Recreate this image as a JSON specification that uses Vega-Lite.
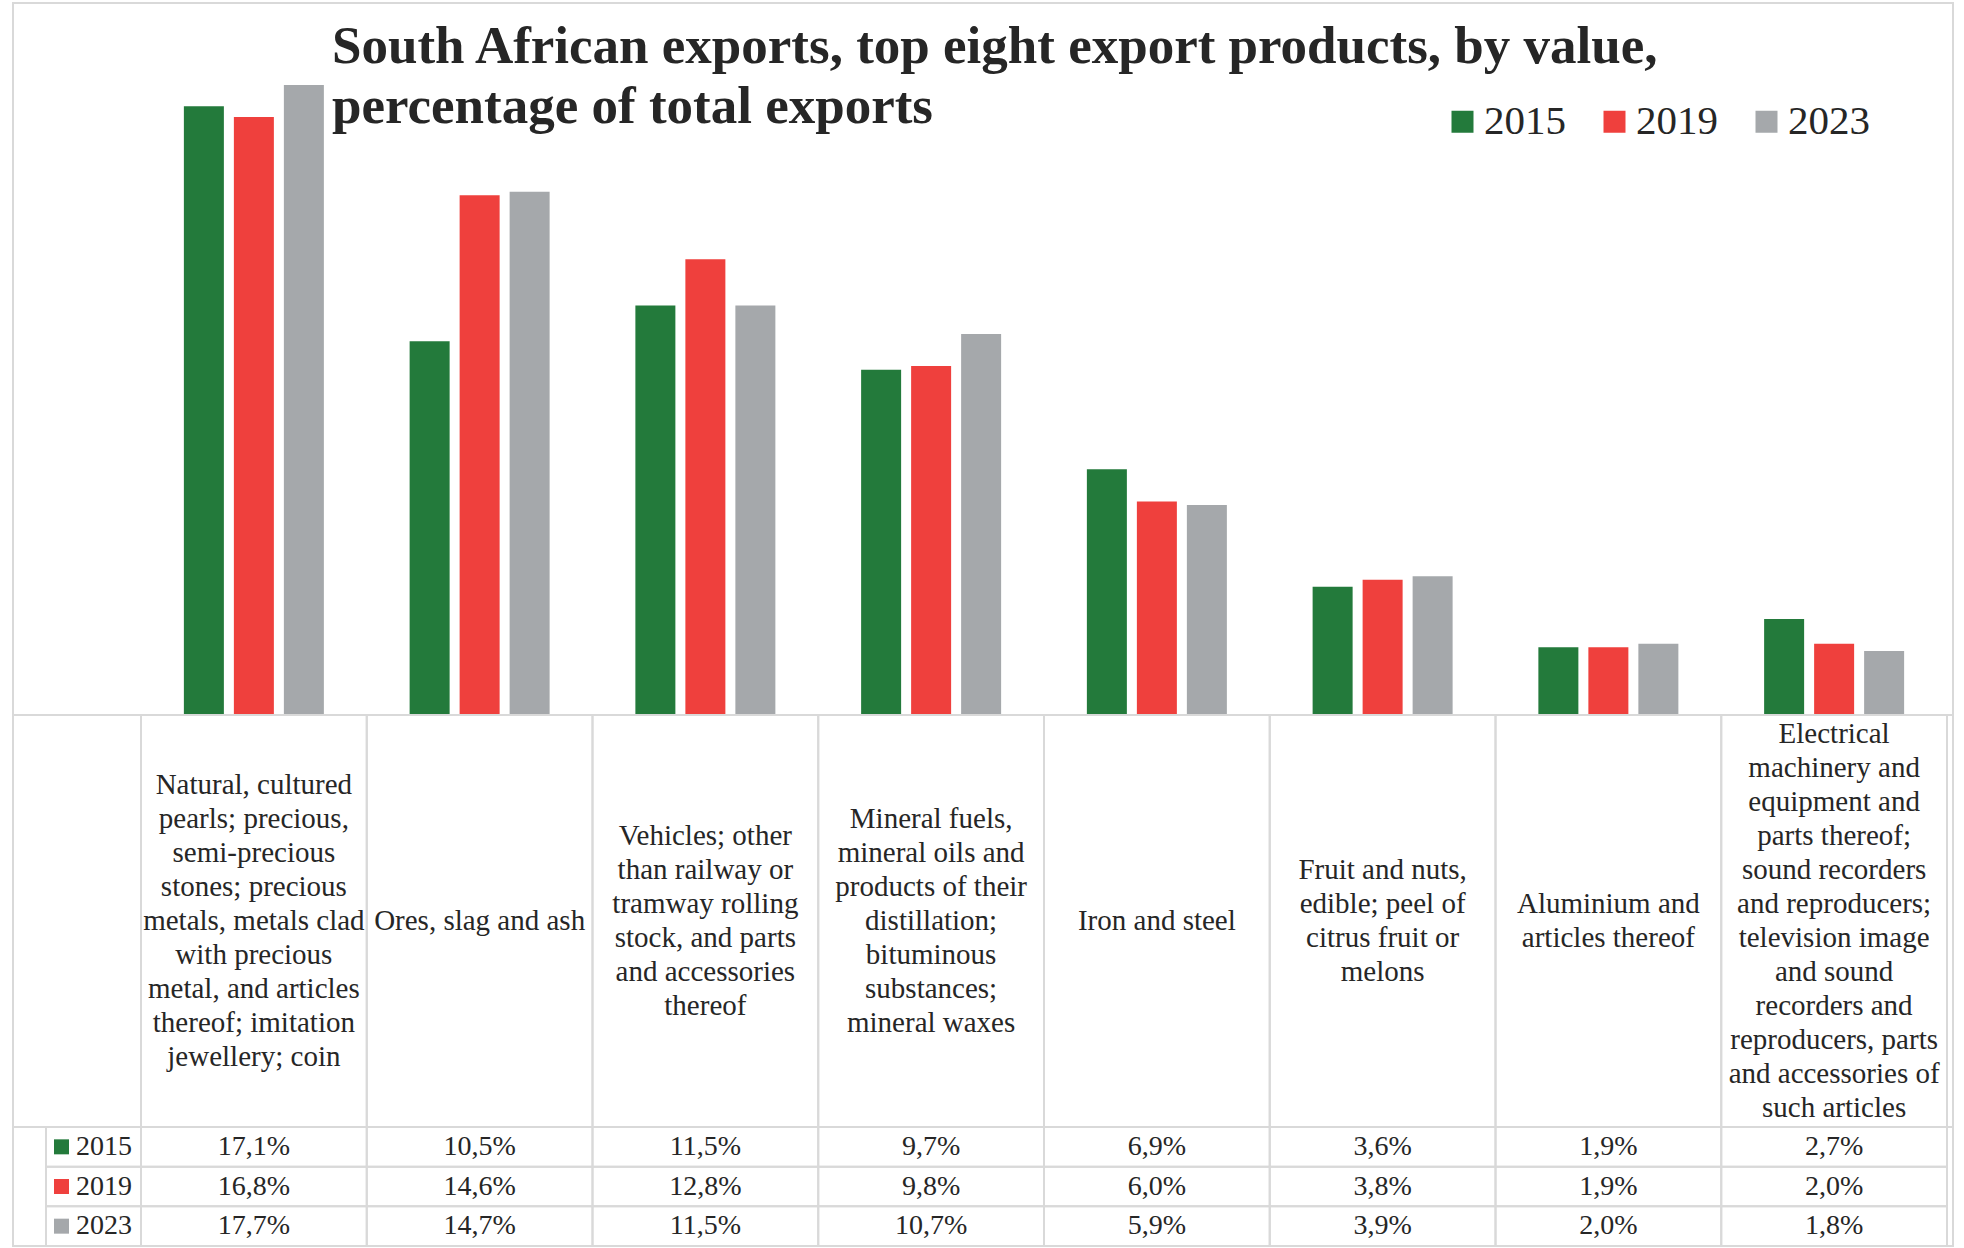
{
  "$schema": "https://vega.github.io/schema/vega-lite/v6.json",
  "padding": {"left": 12, "top": 2, "right": 8, "bottom": 0},
  "background": "#ffffff",
  "spacing": 0,
  "bounds": "flush",
  "datasets": {
    "bars": [
      {"category": "Natural", "year": "2015", "value": 17.1},
      {"category": "Natural", "year": "2019", "value": 16.8},
      {"category": "Natural", "year": "2023", "value": 17.7},
      {"category": "Ores", "year": "2015", "value": 10.5},
      {"category": "Ores", "year": "2019", "value": 14.6},
      {"category": "Ores", "year": "2023", "value": 14.7},
      {"category": "Vehicles", "year": "2015", "value": 11.5},
      {"category": "Vehicles", "year": "2019", "value": 12.8},
      {"category": "Vehicles", "year": "2023", "value": 11.5},
      {"category": "Mineral", "year": "2015", "value": 9.7},
      {"category": "Mineral", "year": "2019", "value": 9.8},
      {"category": "Mineral", "year": "2023", "value": 10.7},
      {"category": "Iron", "year": "2015", "value": 6.9},
      {"category": "Iron", "year": "2019", "value": 6.0},
      {"category": "Iron", "year": "2023", "value": 5.9},
      {"category": "Fruit", "year": "2015", "value": 3.6},
      {"category": "Fruit", "year": "2019", "value": 3.8},
      {"category": "Fruit", "year": "2023", "value": 3.9},
      {"category": "Aluminium", "year": "2015", "value": 1.9},
      {"category": "Aluminium", "year": "2019", "value": 1.9},
      {"category": "Aluminium", "year": "2023", "value": 2.0},
      {"category": "Electrical", "year": "2015", "value": 2.7},
      {"category": "Electrical", "year": "2019", "value": 2.0},
      {"category": "Electrical", "year": "2023", "value": 1.8}
    ],
    "cats": [
      {"category": "Natural", "label": ["Natural, cultured", "pearls; precious,", "semi-precious", "stones; precious", "metals, metals clad", "with precious", "metal, and articles", "thereof; imitation", "jewellery; coin"]},
      {"category": "Ores", "label": ["Ores, slag and ash"]},
      {"category": "Vehicles", "label": ["Vehicles; other", "than railway or", "tramway rolling", "stock, and parts", "and accessories", "thereof"]},
      {"category": "Mineral", "label": ["Mineral fuels,", "mineral oils and", "products of their", "distillation;", "bituminous", "substances;", "mineral waxes"]},
      {"category": "Iron", "label": ["Iron and steel"]},
      {"category": "Fruit", "label": ["Fruit and nuts,", "edible; peel of", "citrus fruit or", "melons"]},
      {"category": "Aluminium", "label": ["Aluminium and", "articles thereof"]},
      {"category": "Electrical", "label": ["Electrical", "machinery and", "equipment and", "parts thereof;", "sound recorders", "and reproducers;", "television image", "and sound", "recorders and", "reproducers, parts", "and accessories of", "such articles"]}
    ],
    "years": [{"year": "2015"}, {"year": "2019"}, {"year": "2023"}]
  },
  "vconcat": [
    {
      "width": 1940,
      "height": 712,
      "view": {"stroke": "#d9d9d9", "strokeWidth": 2},
      "data": {"name": "bars"},
      "title": {
        "text": ["South African exports, top eight export products, by value,", "percentage of total exports"],
        "anchor": "start",
        "frame": "group",
        "orient": "top",
        "dx": 319,
        "dy": 173,
        "offset": 0,
        "baseline": "alphabetic",
        "lineHeight": 60,
        "fontSize": 53,
        "font": "Liberation Serif",
        "fontWeight": "bold",
        "color": "#262626"
      },
      "mark": {"type": "bar"},
      "encoding": {
        "x": {"field": "category", "type": "nominal", "sort": null,
          "scale": {"type": "band", "domain": ["Natural", "Ores", "Vehicles", "Mineral", "Iron", "Fruit", "Aluminium", "Electrical"], "paddingInner": 0, "paddingOuter": 0.2968, "align": 0.9552},
          "axis": null},
        "xOffset": {"field": "year", "type": "nominal", "scale": {"domain": ["2015", "2019", "2023"], "paddingInner": 0.2, "paddingOuter": 0.8575}},
        "y": {"field": "value", "type": "quantitative", "stack": null, "scale": {"domain": [0, 20], "nice": false}, "axis": null},
        "color": {"field": "year", "type": "nominal",
          "scale": {"domain": ["2015", "2019", "2023"], "range": ["#237a3b", "#ef403d", "#a5a8ab"]},
          "legend": {"orient": "none", "legendX": 1429, "legendY": 98, "direction": "horizontal", "title": null, "symbolType": "square", "symbolSize": 484, "symbolStrokeWidth": 0, "symbolOpacity": 1, "labelFontSize": 41, "labelFont": "Liberation Serif", "labelColor": "#262626", "labelOffset": 1, "columnPadding": 28, "padding": 0}}
      }
    },
    {
      "width": 1940,
      "height": 412,
      "view": {"stroke": "#d9d9d9", "strokeWidth": 2},
      "data": {"name": "cats"},
      "layer": [
        {
          "mark": {"type": "rect", "filled": false, "stroke": "#d9d9d9", "strokeWidth": 2},
          "encoding": {
            "x": {"field": "category", "type": "nominal", "sort": null,
              "scale": {"type": "band", "domain": ["Natural", "Ores", "Vehicles", "Mineral", "Iron", "Fruit", "Aluminium", "Electrical"], "paddingInner": 0, "paddingOuter": 0.2968, "align": 0.9552},
              "axis": null}
          }
        },
        {
          "mark": {"type": "text", "fontSize": 29, "lineHeight": 34, "baseline": "middle", "align": "center", "color": "#262626", "font": "Liberation Serif",
            "dy": {"expr": "-(length(datum.label) - 1) * 17"}},
          "encoding": {
            "x": {"field": "category", "type": "nominal", "sort": null,
              "scale": {"type": "band", "domain": ["Natural", "Ores", "Vehicles", "Mineral", "Iron", "Fruit", "Aluminium", "Electrical"], "paddingInner": 0, "paddingOuter": 0.2968, "align": 0.9552},
              "axis": null},
            "text": {"field": "label", "type": "nominal"}
          }
        }
      ]
    },
    {
      "width": 1940,
      "height": 119,
      "view": {"stroke": "#d9d9d9", "strokeWidth": 2},
      "layer": [
        {
          "data": {"name": "bars"},
          "mark": {"type": "rect", "filled": false, "stroke": "#d9d9d9", "strokeWidth": 2},
          "encoding": {
            "x": {"field": "category", "type": "nominal", "sort": null,
              "scale": {"type": "band", "domain": ["Natural", "Ores", "Vehicles", "Mineral", "Iron", "Fruit", "Aluminium", "Electrical"], "paddingInner": 0, "paddingOuter": 0.2968, "align": 0.9552},
              "axis": null},
            "y": {"field": "year", "type": "nominal", "scale": {"type": "band", "domain": ["2015", "2019", "2023"], "paddingInner": 0, "paddingOuter": 0}, "axis": null}
          }
        },
        {
          "data": {"name": "bars"},
          "mark": {"type": "text", "fontSize": 28, "baseline": "middle", "align": "center", "color": "#262626", "font": "Liberation Serif"},
          "encoding": {
            "x": {"field": "category", "type": "nominal", "sort": null,
              "scale": {"type": "band", "domain": ["Natural", "Ores", "Vehicles", "Mineral", "Iron", "Fruit", "Aluminium", "Electrical"], "paddingInner": 0, "paddingOuter": 0.2968, "align": 0.9552},
              "axis": null},
            "y": {"field": "year", "type": "nominal", "scale": {"type": "band", "domain": ["2015", "2019", "2023"], "paddingInner": 0, "paddingOuter": 0}, "axis": null},
            "text": {"field": "value", "type": "quantitative", "format": "$.1f"}
          }
        },
        {
          "data": {"name": "years"},
          "mark": {"type": "rect", "filled": false, "stroke": "#d9d9d9", "strokeWidth": 2},
          "encoding": {
            "x": {"datum": "hdr", "type": "nominal", "scale": {"type": "band", "domain": ["hdr"], "paddingInner": 0.897019, "paddingOuter": 1, "align": 0.017886}, "axis": null},
            "y": {"field": "year", "type": "nominal", "scale": {"type": "band", "domain": ["2015", "2019", "2023"], "paddingInner": 0, "paddingOuter": 0}, "axis": null}
          }
        },
        {
          "data": {"name": "years"},
          "mark": {"type": "point", "shape": "square", "filled": true, "size": 225, "opacity": 1, "strokeWidth": 0},
          "encoding": {
            "x": {"datum": "hdr", "type": "nominal", "scale": {"type": "band", "domain": ["hdr"], "paddingInner": 0.897019, "paddingOuter": 1, "align": 0.017886}, "axis": null, "bandPosition": 0.1632},
            "y": {"field": "year", "type": "nominal", "scale": {"type": "band", "domain": ["2015", "2019", "2023"], "paddingInner": 0, "paddingOuter": 0}, "axis": null},
            "color": {"field": "year", "type": "nominal", "scale": {"domain": ["2015", "2019", "2023"], "range": ["#237a3b", "#ef403d", "#a5a8ab"]}, "legend": null}
          }
        },
        {
          "data": {"name": "years"},
          "mark": {"type": "text", "fontSize": 28, "baseline": "middle", "align": "left", "color": "#262626", "font": "Liberation Serif"},
          "encoding": {
            "x": {"datum": "hdr", "type": "nominal", "scale": {"type": "band", "domain": ["hdr"], "paddingInner": 0.897019, "paddingOuter": 1, "align": 0.017886}, "axis": null, "bandPosition": 0.3158},
            "y": {"field": "year", "type": "nominal", "scale": {"type": "band", "domain": ["2015", "2019", "2023"], "paddingInner": 0, "paddingOuter": 0}, "axis": null},
            "text": {"field": "year", "type": "nominal"}
          }
        }
      ],
      "resolve": {"scale": {"x": "independent"}}
    }
  ],
  "config": {
    "font": "Liberation Serif",
    "locale": {"number": {"decimal": ",", "thousands": ".", "grouping": [3], "currency": ["", "%"]}}
  }
}
